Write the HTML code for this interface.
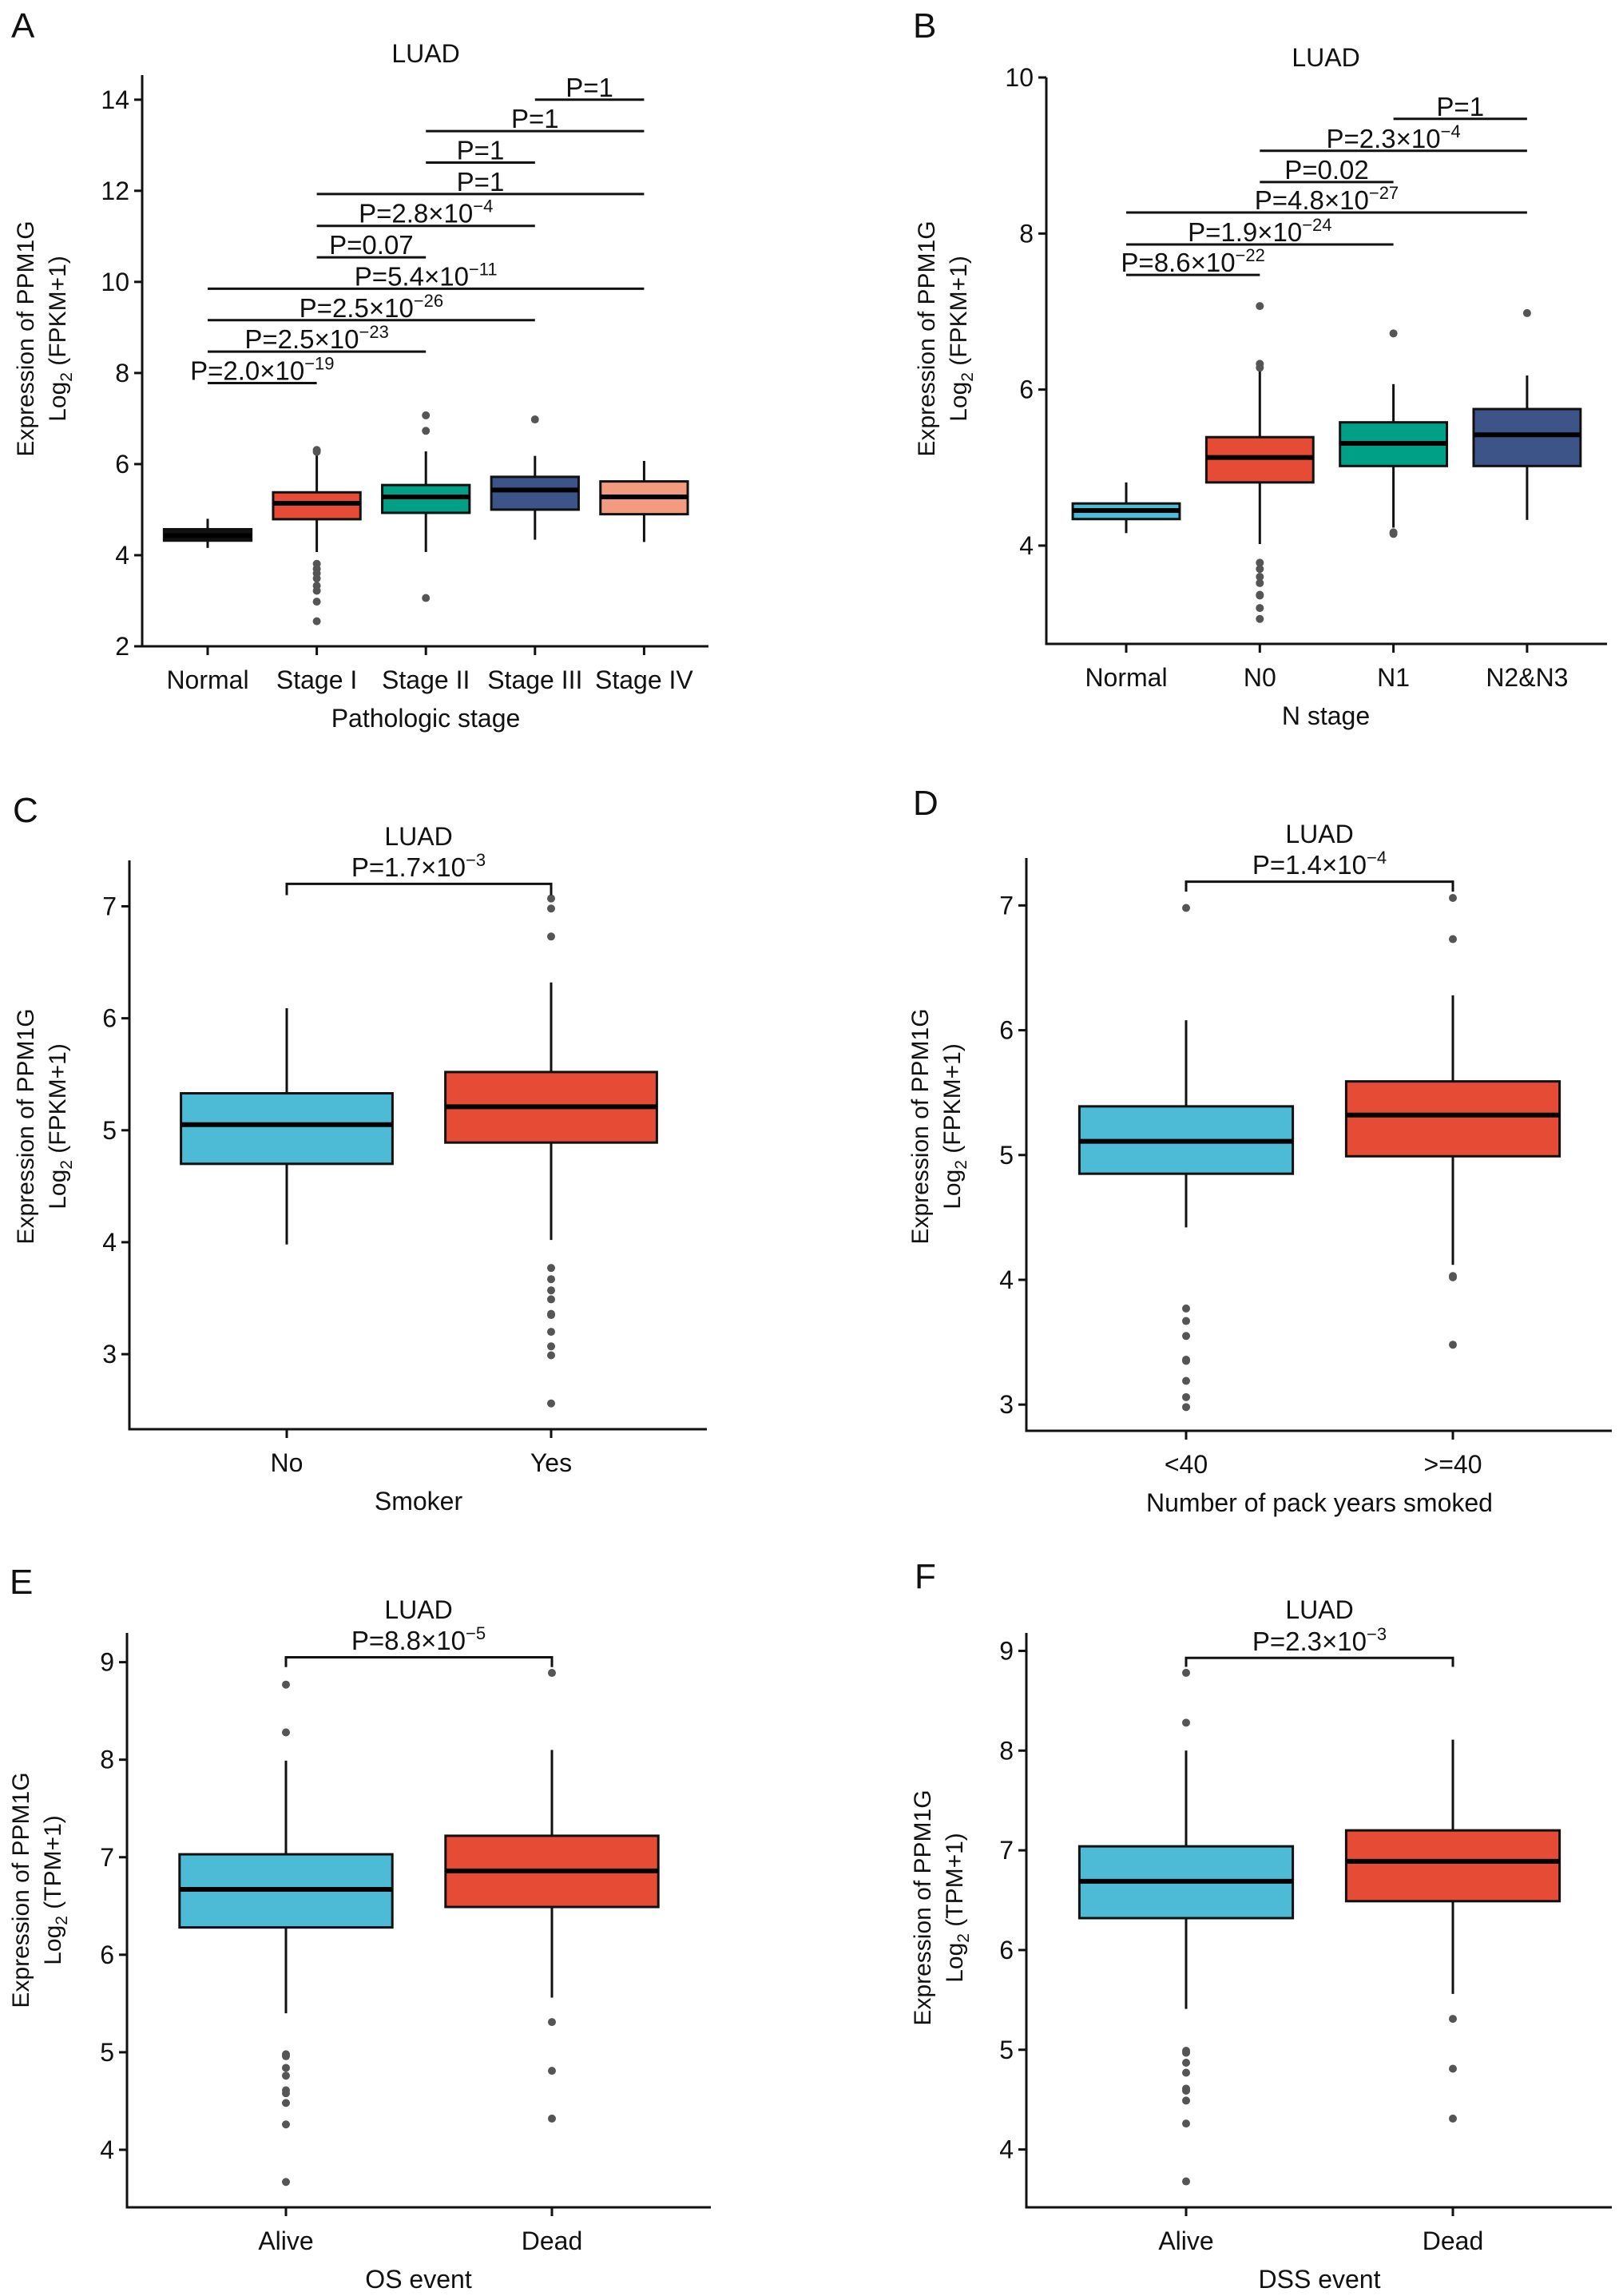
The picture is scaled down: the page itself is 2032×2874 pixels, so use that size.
<!DOCTYPE html>
<html><head><meta charset="utf-8"><style>
html,body{margin:0;padding:0;background:#fff;}
svg{display:block;font-family:"Liberation Sans",Arial,sans-serif;}
</style></head><body>
<svg id="fig" width="2032" height="2874" viewBox="0 0 2032 2874" xmlns="http://www.w3.org/2000/svg"></svg>
<script>
// ---------- Panel A data ----------
const aCats = ["Normal","Stage I","Stage II","Stage III","Stage IV"];
const aLo  = [4.16,4.07,4.07,4.34,4.29];
const aQ1  = [4.32,4.79,4.93,5.00,4.90];
const aMed = [4.43,5.14,5.28,5.43,5.28];
const aQ3  = [4.57,5.38,5.54,5.72,5.62];
const aHi  = [4.80,6.31,6.28,6.18,6.07];
const aOut = [[],[6.31,6.27,3.81,3.70,3.60,3.49,3.33,3.22,2.98,2.55],[7.07,6.73,3.06],[6.98],[]];
const aTicks = [2,4,6,8,10,12,14];
const aCmpFrom = [3,2,2,1,1,1,0,0,0,0];
const aCmpTo   = [4,4,3,4,3,2,4,3,2,1];
const aCmpY    = [14.0,13.31,12.62,11.93,11.23,10.54,9.85,9.16,8.47,7.78];
const aCmpBase = ["P=1","P=1","P=1","P=1","P=2.8×10","P=0.07","P=5.4×10","P=2.5×10","P=2.5×10","P=2.0×10"];
const aCmpExp  = ["","","","","−4","","−11","−26","−23","−19"];
// ---------- Panel B data ----------
const bCats = ["Normal","N0","N1","N2&N3"];
const bLo  = [4.16,4.02,4.23,4.33];
const bQ1  = [4.34,4.81,5.02,5.02];
const bMed = [4.45,5.13,5.31,5.42];
const bQ3  = [4.54,5.39,5.58,5.75];
const bHi  = [4.81,6.26,6.07,6.18];
const bOut = [[],[7.07,6.33,6.28,3.78,3.70,3.60,3.52,3.37,3.36,3.20,3.06],[6.72,4.17,4.15],[6.98]];
const bTicks = [4,6,8,10];
const bCmpFrom = [2,1,1,0,0,0];
const bCmpTo   = [3,3,2,3,2,1];
const bCmpY    = [9.47,9.06,8.66,8.27,7.86,7.47];
const bCmpBase = ["P=1","P=2.3×10","P=0.02","P=4.8×10","P=1.9×10","P=8.6×10"];
const bCmpExp  = ["","−4","","−27","−24","−22"];
// ---------- Panel C data ----------
const cCats = ["No","Yes"];
const cLo  = [3.98,4.02];
const cQ1  = [4.70,4.89];
const cMed = [5.05,5.21];
const cQ3  = [5.33,5.52];
const cHi  = [6.09,6.32];
const cOut = [[],[7.07,6.98,6.73,3.77,3.67,3.57,3.49,3.36,3.35,3.20,3.07,2.99,2.56]];
const cTicks = [3,4,5,6,7];
// ---------- Panel D data ----------
const dCats = ["<40",">=40"];
const dLo  = [4.42,4.12];
const dQ1  = [4.85,4.99];
const dMed = [5.11,5.32];
const dQ3  = [5.39,5.59];
const dHi  = [6.08,6.28];
const dOut = [[6.98,3.77,3.67,3.55,3.36,3.35,3.19,3.06,2.98],[7.06,6.73,4.03,4.02,3.48]];
const dTicks = [3,4,5,6,7];
// ---------- Panel E data ----------
const eCats = ["Alive","Dead"];
const eLo  = [5.40,5.56];
const eQ1  = [6.28,6.49];
const eMed = [6.67,6.86];
const eQ3  = [7.03,7.22];
const eHi  = [7.99,8.10];
const eOut = [[8.77,8.28,4.98,4.96,4.84,4.76,4.61,4.58,4.48,4.26,3.67],[8.89,5.31,4.81,4.32]];
const eTicks = [4,5,6,7,8,9];
// ---------- Panel F data ----------
const fCats = ["Alive","Dead"];
const fLo  = [5.41,5.56];
const fQ1  = [6.32,6.49];
const fMed = [6.69,6.89];
const fQ3  = [7.04,7.20];
const fHi  = [8.00,8.11];
const fOut = [[8.78,8.28,4.99,4.97,4.87,4.77,4.61,4.59,4.49,4.26,3.68],[5.31,4.81,4.31]];
const fTicks = [4,5,6,7,8,9];

const NS = "http://www.w3.org/2000/svg";
const svg = document.getElementById('fig');
function mk(tag, attrs, parent){
  const e = document.createElementNS(NS, tag);
  for (const k in attrs) e.setAttribute(k, attrs[k]);
  (parent||svg).appendChild(e);
  return e;
}
function txt(parent, x, y, s, size, anchor, extra){
  const t = mk('text', {x:x, y:y, 'font-size':size, 'text-anchor':anchor||'middle', fill:'#111'}, parent);
  t.textContent = s;
  if (extra) for (const k in extra) t.setAttribute(k, extra[k]);
  return t;
}
function ptext(parent, x, y, base, exp, size){
  const t = mk('text', {x:x, y:y, 'font-size':size, 'text-anchor':'middle', fill:'#111'}, parent);
  const s1 = mk('tspan', {}, t); s1.textContent = base;
  if (exp){
    const s2 = mk('tspan', {dy:-13, 'font-size':Math.round(size*0.68)}, t); s2.textContent = exp;
  }
  return t;
}

function panel(p){
  const g = mk('g', {});
  
  
  const yS = v => p.yb - (v - p.vmin)/(p.vmax - p.vmin)*(p.yb - p.yt);
  const xS = i => p.x1 + i*p.step;
  const bw = p.step*0.8;
  const L = txt(g, p.lx, p.ly, p.letter, 44, 'start');
  
  
  const ya = mk('line', {x1:p.ax, y1:p.yt, x2:p.ax, y2:p.yb+1.5, stroke:'#111','stroke-width':3}, g);
  
  
  const xa = mk('line', {x1:p.ax-1.5, y1:p.yb, x2:p.xr, y2:p.yb, stroke:'#111','stroke-width':3}, g);
  
  
  p.ticks.forEach(v=>{
    const y = yS(v);
    mk('line', {x1:p.ax-10, y1:y, x2:p.ax, y2:y, stroke:'#111','stroke-width':3}, g);
    const t = txt(g, p.ax-16, y+11, String(v), 32, 'end');
    
    
  });
  p.cats.forEach((c,i)=>{
    const x = xS(i);
    mk('line', {x1:x, y1:p.yb, x2:x, y2:p.yb+11, stroke:'#111','stroke-width':3}, g);
    const t = txt(g, x, p.yb+53, c, 32, 'middle');
    
    
  });
  const xt = txt(g, p.xtx, p.yb+101, p.xtitle, 32, 'middle');
  
  
  const yt = mk('text', {transform:`translate(${p.ytx},${p.yty}) rotate(-90)`, 'font-size':30, 'text-anchor':'middle', fill:'#111'}, g);
  
  
  const l1 = mk('tspan', {x:0, y:0}, yt); l1.textContent = 'Expression of PPM1G';
  const l2 = mk('tspan', {x:0, y:40}, yt); l2.textContent = 'Log';
  const l3 = mk('tspan', {dy:8, 'font-size':21}, yt); l3.textContent = '2';
  const l4 = mk('tspan', {dy:-8}, yt); l4.textContent = p.unit;
  const tt = txt(g, p.ttx, p.tty, 'LUAD', 32, 'middle');
  
  
  p.cats.forEach((c,i)=>{
    const x = xS(i);
    const bg = mk('g', {}, g);
    
    
    mk('line', {x1:x, y1:yS(p.hi[i]), x2:x, y2:yS(p.q3[i]), stroke:'#111','stroke-width':3}, bg);
    mk('line', {x1:x, y1:yS(p.q1[i]), x2:x, y2:yS(p.lo[i]), stroke:'#111','stroke-width':3}, bg);
    mk('rect', {x:x-bw/2, y:yS(p.q3[i]), width:bw, height:yS(p.q1[i])-yS(p.q3[i]), fill:p.colors[i], stroke:'#111','stroke-width':3}, bg);
    mk('line', {x1:x-bw/2, y1:yS(p.med[i]), x2:x+bw/2, y2:yS(p.med[i]), stroke:'#000','stroke-width':6}, bg);
    p.out[i].forEach(v=>{
      const o = mk('circle', {cx:x, cy:yS(v), r:5, fill:'#555'}, bg);
      
      
    });
  });
  if (p.cmpFrom){
    p.cmpFrom.forEach((f,k)=>{
      const y = yS(p.cmpY[k]);
      const x1 = xS(f), x2 = xS(p.cmpTo[k]);
      const cg = mk('g', {}, g);
      
      
      mk('line', {x1:x1, y1:y, x2:x2, y2:y, stroke:'#111','stroke-width':3}, cg);
      ptext(cg, (x1+x2)/2, y-4, p.cmpBase[k], p.cmpExp[k], 33);
    });
  }
  if (p.brY !== undefined){
    const cg = mk('g', {}, g);
    
    
    const y = yS(p.brY), yt2 = yS(p.brTip);
    mk('polyline', {points:`${xS(0)},${yt2} ${xS(0)},${y} ${xS(1)},${y} ${xS(1)},${yt2}`, fill:'none', stroke:'#111','stroke-width':3}, cg);
    ptext(cg, p.ttx, p.pty, p.pBase, p.pExp, 33);
  }
}

const BLUE='#4DBBD5', RED='#E64B35', TEAL='#00A087', NAVY='#3C5488', SALMON='#F39B7F';

panel({name:'panel-a-pathologic-stage', letter:'A', lx:14, ly:47, ax:178, xr:887, yb:809, yt:94, vmin:2, vmax:14.54,
  x1:260, step:136.6, ticks:aTicks, cats:aCats, lo:aLo, q1:aQ1, med:aMed, q3:aQ3, hi:aHi, out:aOut,
  colors:['#111',RED,TEAL,NAVY,SALMON], xtitle:'Pathologic stage', xtx:533, ytx:42, yty:424, unit:' (FPKM+1)',
  ttx:533, tty:78, cmpFrom:aCmpFrom, cmpTo:aCmpTo, cmpY:aCmpY, cmpBase:aCmpBase, cmpExp:aCmpExp});
panel({name:'panel-b-n-stage', letter:'B', lx:1143, ly:47, ax:1310, xr:2012, yb:806, yt:97, vmin:2.74, vmax:10,
  x1:1410, step:167.3, ticks:bTicks, cats:bCats, lo:bLo, q1:bQ1, med:bMed, q3:bQ3, hi:bHi, out:bOut,
  colors:[BLUE,RED,TEAL,NAVY], xtitle:'N stage', xtx:1660, ytx:1170, yty:424, unit:' (FPKM+1)',
  ttx:1660, tty:83, cmpFrom:bCmpFrom, cmpTo:bCmpTo, cmpY:bCmpY, cmpBase:bCmpBase, cmpExp:bCmpExp});
panel({name:'panel-c-smoker', letter:'C', lx:16, ly:1029, ax:162, xr:885, yb:1789, yt:1077, vmin:2.33, vmax:7.41,
  x1:359, step:331, ticks:cTicks, cats:cCats, lo:cLo, q1:cQ1, med:cMed, q3:cQ3, hi:cHi, out:cOut,
  colors:[BLUE,RED], xtitle:'Smoker', xtx:524, ytx:42, yty:1410, unit:' (FPKM+1)',
  ttx:524, tty:1058, pty:1097, pBase:'P=1.7×10', pExp:'−3', brY:7.2, brTip:7.1});
panel({name:'panel-d-pack-years', letter:'D', lx:1143, ly:1020, ax:1285, xr:2018, yb:1791, yt:1074, vmin:2.79, vmax:7.38,
  x1:1485, step:334, ticks:dTicks, cats:dCats, lo:dLo, q1:dQ1, med:dMed, q3:dQ3, hi:dHi, out:dOut,
  colors:[BLUE,RED], xtitle:'Number of pack years smoked', xtx:1652, ytx:1162, yty:1410, unit:' (FPKM+1)',
  ttx:1652, tty:1055, pty:1094, pBase:'P=1.4×10', pExp:'−4', brY:7.19, brTip:7.11});
panel({name:'panel-e-os-event', letter:'E', lx:12, ly:1995, ax:159, xr:890, yb:2763, yt:2044, vmin:3.41, vmax:9.3,
  x1:358, step:333, ticks:eTicks, cats:eCats, lo:eLo, q1:eQ1, med:eMed, q3:eQ3, hi:eHi, out:eOut,
  colors:[BLUE,RED], xtitle:'OS event', xtx:524, ytx:36, yty:2366, unit:' (TPM+1)',
  ttx:524, tty:2026, pty:2065, pBase:'P=8.8×10', pExp:'−5', brY:9.05, brTip:8.95});
panel({name:'panel-f-dss-event', letter:'F', lx:1145, ly:1988, ax:1285, xr:2018, yb:2763, yt:2044, vmin:3.42, vmax:9.18,
  x1:1485, step:334, ticks:fTicks, cats:fCats, lo:fLo, q1:fQ1, med:fMed, q3:fQ3, hi:fHi, out:fOut,
  colors:[BLUE,RED], xtitle:'DSS event', xtx:1652, ytx:1165, yty:2388, unit:' (TPM+1)',
  ttx:1652, tty:2026, pty:2066, pBase:'P=2.3×10', pExp:'−3', brY:8.93, brTip:8.84});
</script>
</body></html>
